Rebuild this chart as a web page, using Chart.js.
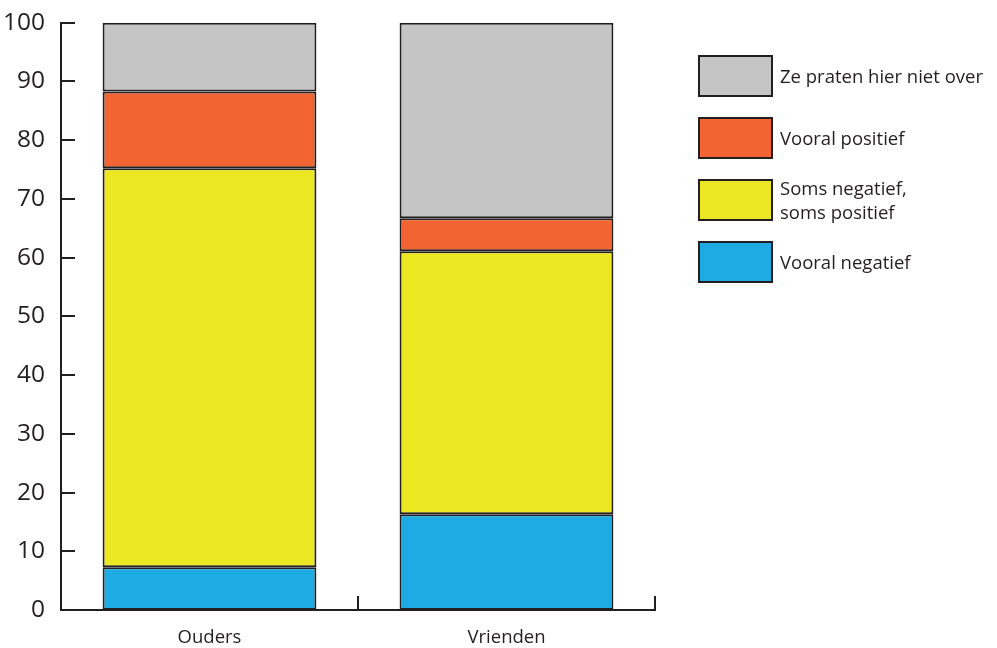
<!DOCTYPE html>
<html lang="nl">
<head>
    <meta charset="UTF-8">
    <title>Ouders en vrienden</title>
    <script src="https://cdn.jsdelivr.net/npm/chart.js@4.4.1/dist/chart.umd.min.js"></script>
    <style>
        html, body { margin: 0; padding: 0; background: #fff; }
        .chart-box { position: relative; width: 997px; height: 648px; font-family: "Open Sans", "Noto Sans", sans-serif; color: #231f20; }
        .legend { position: absolute; left: 698px; top: 55px; display: flex; flex-direction: column; gap: 21px; }
        .legend-item { display: flex; align-items: center; height: 41px; }
        .legend-box { width: 71px; height: 38px; border: 2px solid #231f20; margin-right: 7px; flex: none; }
        .legend-text { font-size: 18.5px; line-height: 24px; white-space: nowrap; }
    </style>
</head>
<body>
<div class="chart-box">
    <canvas id="chart" width="997" height="648"></canvas>
    <div class="legend" id="legend"></div>
</div>
<script>
    const categories = ['Ouders', 'Vrienden']
    const negatief = [7.3, 16.3]
    const somsSoms = [67.9, 44.8]
    const positief = [13.1, 5.6]
    const nietOver = [11.7, 33.3]
    const yTicks = [0, 10, 20, 30, 40, 50, 60, 70, 80, 90, 100]

    const ink = '#231f20'

    // inward tick marks + category separators on the x axis
    const innerTicks = {
        id: 'innerTicks',
        afterDraw(chart) {
            const ctx = chart.ctx
            const y = chart.scales.y
            const x = chart.scales.x
            const left = chart.chartArea.left
            const bottom = chart.chartArea.bottom
            ctx.save()
            ctx.strokeStyle = ink
            ctx.lineWidth = 2
            ctx.beginPath()
            yTicks.forEach(v => {
                const py = Math.round(y.getPixelForValue(v))
                ctx.moveTo(left, py)
                ctx.lineTo(left + 14, py)
            })
            const half = (x.getPixelForValue(1) - x.getPixelForValue(0)) / 2
            for (let i = 0; i < categories.length; i++) {
                const px = Math.round(x.getPixelForValue(i) + half)
                ctx.moveTo(px, bottom)
                ctx.lineTo(px, bottom - 14)
            }
            ctx.stroke()
            ctx.restore()
        }
    }

    const datasets = [
        { label: 'Vooral negatief', data: negatief, backgroundColor: '#1eaae2' },
        { label: 'Soms negatief,\nsoms positief', data: somsSoms, backgroundColor: '#ebe722' },
        { label: 'Vooral positief', data: positief, backgroundColor: '#f26532' },
        { label: 'Ze praten hier niet over', data: nietOver, backgroundColor: '#c4c5c4' }
    ].map(d => ({ ...d, borderColor: ink, borderWidth: 2, borderSkipped: false,
        categoryPercentage: 1, barPercentage: 0.72 }))

    const chart = new Chart(document.getElementById('chart'), {
        type: 'bar',
        data: { labels: categories, datasets: datasets },
        options: {
            responsive: false,
            animation: false,
            layout: { padding: { top: 22, right: 342, left: 0, bottom: 0 } },
            plugins: { legend: { display: false }, tooltip: { enabled: false } },
            scales: {
                x: {
                    stacked: true,
                    grid: { display: false },
                    border: { display: true, color: ink, width: 2 },
                    ticks: { color: ink, font: { family: 'Open Sans', size: 18.5 }, padding: 9 },
                    afterFit(scale) { scale.height = 38 }
                },
                y: {
                    stacked: true,
                    min: 0,
                    max: 100,
                    grid: { display: false },
                    border: { display: true, color: ink, width: 2 },
                    ticks: { stepSize: 10, color: ink, font: { family: 'Open Sans', size: 24.5 }, padding: 8 },
                    afterFit(scale) { scale.width = 61 }
                }
            }
        },
        plugins: [innerTicks]
    })

    const legend = document.getElementById('legend')
    datasets.slice().reverse().forEach(d => {
        legend.innerHTML += `<div class="legend-item">
            <div class="legend-box" style="background: ${d.backgroundColor}"></div>
            <div class="legend-text">${d.label.replace('\n', '<br>')}</div>
        </div>`
    })
</script>
</body>
</html>
